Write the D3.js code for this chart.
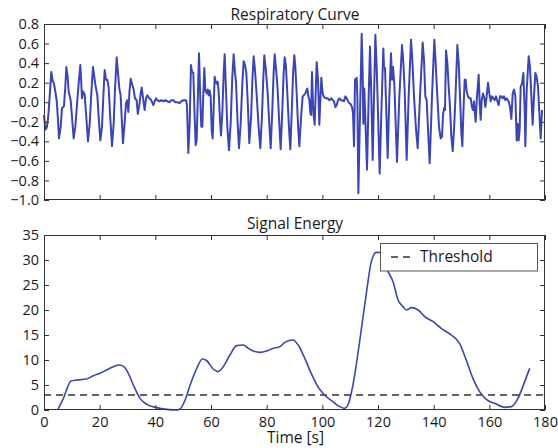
<!DOCTYPE html>
<html><head><meta charset="utf-8">
<script src="https://cdn.jsdelivr.net/npm/d3@7"></script>
<style>
body{margin:0;background:#fff}
svg{display:block}
text{font-family:"Open Sans",sans-serif;fill:#1a1a1a}
</style>
</head><body>
<svg id="c" width="558" height="448"></svg>
<script>
// ---------- data ----------
const respT = [0,0.48,1.0,1.44,1.91,2.63,3.11,3.59,4.07,4.55,5.03,5.39,5.99,6.47,7.18,7.66,8.02,8.5,8.86,9.58,10.06,10.66,11.26,11.97,12.57,13.05,13.41,13.65,14.01,14.61,15.09,15.81,16.41,17.0,17.6,18.08,18.44,19.16,19.64,20.24,20.84,21.32,21.8,22.27,22.75,23.23,23.71,24.43,25.03,25.51,26.11,26.59,27.06,27.54,28.02,28.38,28.86,29.46,29.94,30.3,30.66,31.14,31.62,32.21,32.69,33.29,33.7,34.25,34.73,35.1,35.69,36.17,36.65,37.13,37.84,38.56,39.28,39.76,40.24,40.72,41.44,42.16,42.87,43.59,44.31,45.03,45.75,46.47,47.19,47.9,48.62,49.34,50.06,51.02,51.37,51.85,52.33,52.81,53.17,53.65,54.01,54.49,54.85,55.33,55.69,56.17,56.52,56.88,57.24,57.6,57.96,58.44,58.8,59.16,59.52,59.88,60.24,60.6,60.96,61.31,61.67,62.03,62.39,62.75,63.23,63.59,64.07,64.55,64.91,65.39,65.87,66.46,67.06,67.66,68.14,68.62,68.98,69.58,70.06,70.66,71.25,71.73,72.21,72.69,73.17,73.77,74.4,74.9,75.33,75.8,76.4,77.1,77.73,78.3,78.8,79.16,79.7,80.3,80.9,81.44,82.0,82.5,82.88,83.4,83.9,84.5,85.03,85.6,86.1,86.47,86.9,87.4,88.0,88.5,89.0,89.5,89.94,90.3,90.8,91.3,91.74,92.46,92.94,93.3,93.9,94.26,94.61,94.97,95.33,95.69,95.93,96.29,96.77,97.25,97.97,98.45,98.92,99.64,100.12,100.48,101.08,101.8,102.52,103.24,103.71,104.19,104.67,105.15,105.63,106.11,106.59,107.07,107.79,108.27,108.75,109.23,109.7,110.18,110.66,111.02,111.38,111.74,112.34,112.58,112.94,113.54,114.14,114.5,114.73,115.09,116.05,116.65,117.13,117.61,118.09,118.57,119.05,119.52,120.0,120.6,121.2,121.92,122.16,122.52,123.0,123.48,124.08,124.67,125.03,125.39,125.87,126.35,126.83,127.67,128.63,129.1,129.58,130.3,131.02,131.86,132.34,132.94,133.66,134.26,135.09,136.05,136.53,137.01,137.49,137.97,138.57,139.4,140.24,140.72,141.32,141.92,142.52,143.0,143.36,143.72,144.08,144.44,144.92,145.4,145.87,146.35,146.83,147.31,147.79,148.51,148.99,149.47,149.95,150.31,150.67,151.14,151.5,151.86,152.34,152.82,153.3,153.78,154.14,154.5,154.86,155.1,155.57,156.17,156.53,156.89,157.25,157.73,158.21,158.57,159.05,159.53,160.0,160.48,160.96,161.44,161.92,162.4,162.88,163.36,163.84,164.32,164.8,165.28,165.75,166.23,166.95,167.43,167.91,168.39,168.87,169.35,169.83,170.19,170.54,170.9,171.26,171.74,172.22,172.7,172.94,173.42,174.14,174.62,175.1,175.57,176.05,176.53,177.01,177.49,177.97,178.45,178.93];
const respV = [-0.13,-0.28,-0.26,-0.17,0.0,0.31,0.22,0.19,0.11,0.02,-0.18,-0.37,-0.25,-0.06,-0.04,0.16,0.36,0.26,0.11,0.02,-0.15,-0.37,-0.25,0.02,0.23,0.38,0.19,0.04,0.11,0.08,-0.11,-0.40,-0.22,0.09,0.36,0.26,0.18,0.07,-0.15,-0.39,-0.25,0.06,0.33,0.23,0.23,0.15,-0.11,-0.45,-0.22,0.13,0.46,0.30,0.14,0.07,-0.22,-0.42,-0.25,-0.01,0.02,-0.10,0.09,0.24,0.19,0.13,0.04,0.02,-0.12,-0.03,0.09,0.15,0.02,-0.08,0.04,0.07,0.04,0.02,-0.03,0.01,0.04,0.02,0.01,0.02,0.01,0.02,0.01,0.0,0.02,0.02,0.0,0.0,-0.01,0.01,0.02,0.02,-0.03,-0.52,-0.22,0.38,0.31,0.30,-0.05,-0.44,-0.39,0.12,0.50,0.02,-0.25,-0.25,0.09,0.35,0.12,0.09,0.13,0.07,0.12,0.06,-0.28,-0.37,-0.05,0.26,0.21,0.19,0.21,0.11,-0.18,-0.34,-0.11,0.30,0.49,0.12,-0.25,-0.49,-0.22,0.26,0.49,0.30,0.21,-0.22,-0.47,-0.22,0.19,0.42,0.38,0.30,0.02,-0.42,-0.15,0.25,0.47,0.33,0.08,-0.25,-0.47,-0.15,0.25,0.48,0.33,0.12,-0.2,-0.47,-0.1,0.3,0.49,0.33,0.15,-0.2,-0.48,-0.1,0.3,0.46,0.38,0.1,-0.25,-0.48,-0.1,0.3,0.48,0.36,0.08,-0.25,-0.45,-0.11,0.06,0.07,0.09,0.12,0.14,0.06,0.02,-0.11,-0.13,0.31,-0.11,-0.23,0.41,0.23,-0.23,0.25,0.09,0.06,0.04,0.04,0.02,0.04,0.02,0.01,-0.05,-0.03,0.02,0.04,0.02,0.02,0.01,0.06,0.04,0.01,-0.01,-0.02,-0.05,-0.11,-0.45,0.23,0.25,0.06,-0.93,-0.11,0.70,0.30,-0.22,0.14,-0.69,0.06,0.57,0.06,-0.59,0.06,0.69,0.36,-0.11,-0.73,-0.11,0.55,0.36,0.35,-0.11,-0.57,0.06,0.50,0.23,0.36,0.19,-0.22,-0.61,0.06,0.585,0.415,0.12,-0.59,0.06,0.64,0.43,0.06,-0.28,-0.47,0.06,0.61,0.43,0.06,0.02,-0.28,-0.625,0.06,0.64,0.40,0.06,-0.25,-0.37,-0.35,-0.13,-0.06,-0.08,0.53,0.40,0.16,-0.05,-0.35,-0.50,-0.28,0.02,0.585,0.40,0.06,-0.32,-0.45,-0.11,0.23,0.23,0.11,0.06,0.04,0.04,-0.05,-0.08,0.01,-0.13,-0.20,0.06,0.28,-0.01,-0.18,0.02,0.09,0.04,-0.05,0.06,0.20,0.09,0.01,0.06,0.04,0.02,0.06,0.01,-0.03,0.06,0.06,0.04,0.06,0.02,0.04,0.01,-0.05,-0.17,0.09,0.13,0.06,-0.39,-0.22,-0.39,-0.28,0.16,0.19,0.30,-0.08,-0.45,0.12,0.47,0.36,0.06,-0.23,0.06,0.30,0.26,0.16,-0.11,-0.37,-0.08];

const energyT = [4.9,6.95,9.7,11.7,15.3,17.7,20.1,22.5,24.9,27.1,28.7,30.3,32.1,34.5,36.9,40.5,44.1,47.7,48.9,50.7,52.5,54.9,56.9,58.4,60.8,62.6,64.4,66.8,69.2,71.6,73.4,75.2,77.6,80.0,82.4,84.8,86.5,89.5,91.3,93.7,96.0,98.4,100.8,103.8,106.2,108.0,109.2,111.0,113.4,115.8,117.6,119.4,120.6,121.8,123.6,125.4,127.2,129.0,130.2,132.0,134.4,136.8,139.8,142.7,146.3,149.3,151.7,154.1,156.5,158.9,161.9,165.5,167.9,170.3,172.7,174.5];
const energyV = [0,2.33,5.8,6.0,6.2,6.87,7.33,8.0,8.67,9.0,8.67,7.33,5.0,2.33,1.13,0.47,0.13,0,0.2,2.0,5.0,8.33,10.2,9.9,8.2,7.67,8.67,11,12.87,13.0,12.33,11.8,11.53,11.8,12.33,12.67,13.53,14.0,13.0,10.33,7.33,4.67,3.0,1.67,0.67,0.33,1.0,5.0,13.67,23.3,29.67,31.53,31.5,30.0,27.67,25.67,22.0,20.67,20.0,20.47,20.0,18.67,17.67,16.33,15.0,13.33,10.0,6.33,3.67,2.13,1.33,0.53,0.67,2.33,5.67,8.33];

const threshold = 3;
const xTicks = [0,20,40,60,80,100,120,140,160,180];
const respTicks = [0.8,0.6,0.4,0.2,0.0,-0.2,-0.4,-0.6,-0.8,-1.0];
const energyTicks = [0,5,10,15,20,25,30,35];
const titles = ["Respiratory Curve","Signal Energy"];
const xLabel = "Time [s]";
const legendLabel = "Threshold";

// ---------- drawing ----------
const svg = d3.select("#c");
const L = 44, R = 545;
const lineColor = "#3b45b3";
const x = d3.scaleLinear().domain([0,180]).range([L,R]);
const yR = d3.scaleLinear().domain([-1,0.8]).range([200,24]);
const yE = d3.scaleLinear().domain([0,35]).range([410,235]);

function fmtR(d){ const s = d3.format(".1f")(Math.abs(d)); return (d < -1e-9 ? "\u2212" : "") + s; }

function panel(y, ticks, fmt, showX){
  const [b, t] = y.range();
  const g = svg.append("g");
  const ax = d3.axisBottom(x).tickValues(xTicks).tickSizeInner(-5).tickSizeOuter(0).tickPadding(7)
      .tickFormat(showX ? d3.format("d") : "");
  g.append("g").attr("transform",`translate(0,${b})`).call(ax);
  g.append("g").attr("transform",`translate(0,${t})`)
    .call(d3.axisTop(x).tickValues(xTicks).tickSizeInner(-5).tickSizeOuter(0).tickFormat(""));
  g.append("g").attr("transform",`translate(${L},0)`)
    .call(d3.axisLeft(y).tickValues(ticks).tickSizeInner(-5).tickSizeOuter(0).tickPadding(5).tickFormat(fmt));
  g.append("g").attr("transform",`translate(${R},0)`)
    .call(d3.axisRight(y).tickValues(ticks).tickSizeInner(-5).tickSizeOuter(0).tickFormat(""));
  g.selectAll(".domain").remove();
  g.selectAll(".tick line").attr("stroke","#333");
  g.selectAll(".tick text").style("font-size","14.5px").attr("fill","#1a1a1a");
  g.append("rect").attr("x",L+0.5).attr("y",t+0.5).attr("width",R-L-1).attr("height",b-t-1)
    .attr("fill","none").attr("stroke","#333").attr("stroke-width",1);
  return g;
}

// top panel
const idx1 = d3.range(respT.length);
svg.append("path")
  .attr("d", d3.line().x(i=>x(respT[i])).y(i=>yR(respV[i]))(idx1))
  .attr("fill","none").attr("stroke",lineColor).attr("stroke-width",2).attr("stroke-linejoin","round");
panel(yR, respTicks, fmtR, false);

// bottom panel
svg.append("line").attr("x1",x(0)).attr("x2",x(180)).attr("y1",yE(threshold)).attr("y2",yE(threshold))
  .attr("stroke","#333").attr("stroke-width",1.4).attr("stroke-dasharray","7,5");
const idx2 = d3.range(energyT.length);
svg.append("path")
  .attr("d", d3.line().curve(d3.curveMonotoneX).x(i=>x(energyT[i])).y(i=>yE(energyV[i]))(idx2))
  .attr("fill","none").attr("stroke",lineColor).attr("stroke-width",1.6);
panel(yE, energyTicks, d3.format("d"), true);

// titles
svg.append("text").attr("x",295).attr("y",20).attr("text-anchor","middle").style("font-size","15.5px").text(titles[0]);
svg.append("text").attr("x",295).attr("y",228.5).attr("text-anchor","middle").style("font-size","15.5px").text(titles[1]);
svg.append("text").attr("x",295.5).attr("y",443).attr("text-anchor","middle").style("font-size","15.5px").text(xLabel);

// legend
const lg = svg.append("g");
lg.append("rect").attr("x",380.5).attr("y",243.5).attr("width",157).attr("height",27.5)
  .attr("fill","#fff").attr("stroke","#555").attr("stroke-width",1);
lg.append("line").attr("x1",391).attr("x2",414).attr("y1",257).attr("y2",257)
  .attr("stroke","#333").attr("stroke-width",1.4).attr("stroke-dasharray","7,5");
lg.append("text").attr("x",420).attr("y",257).attr("dy","0.35em").style("font-size","15.5px").text(legendLabel);
</script>
</body></html>
